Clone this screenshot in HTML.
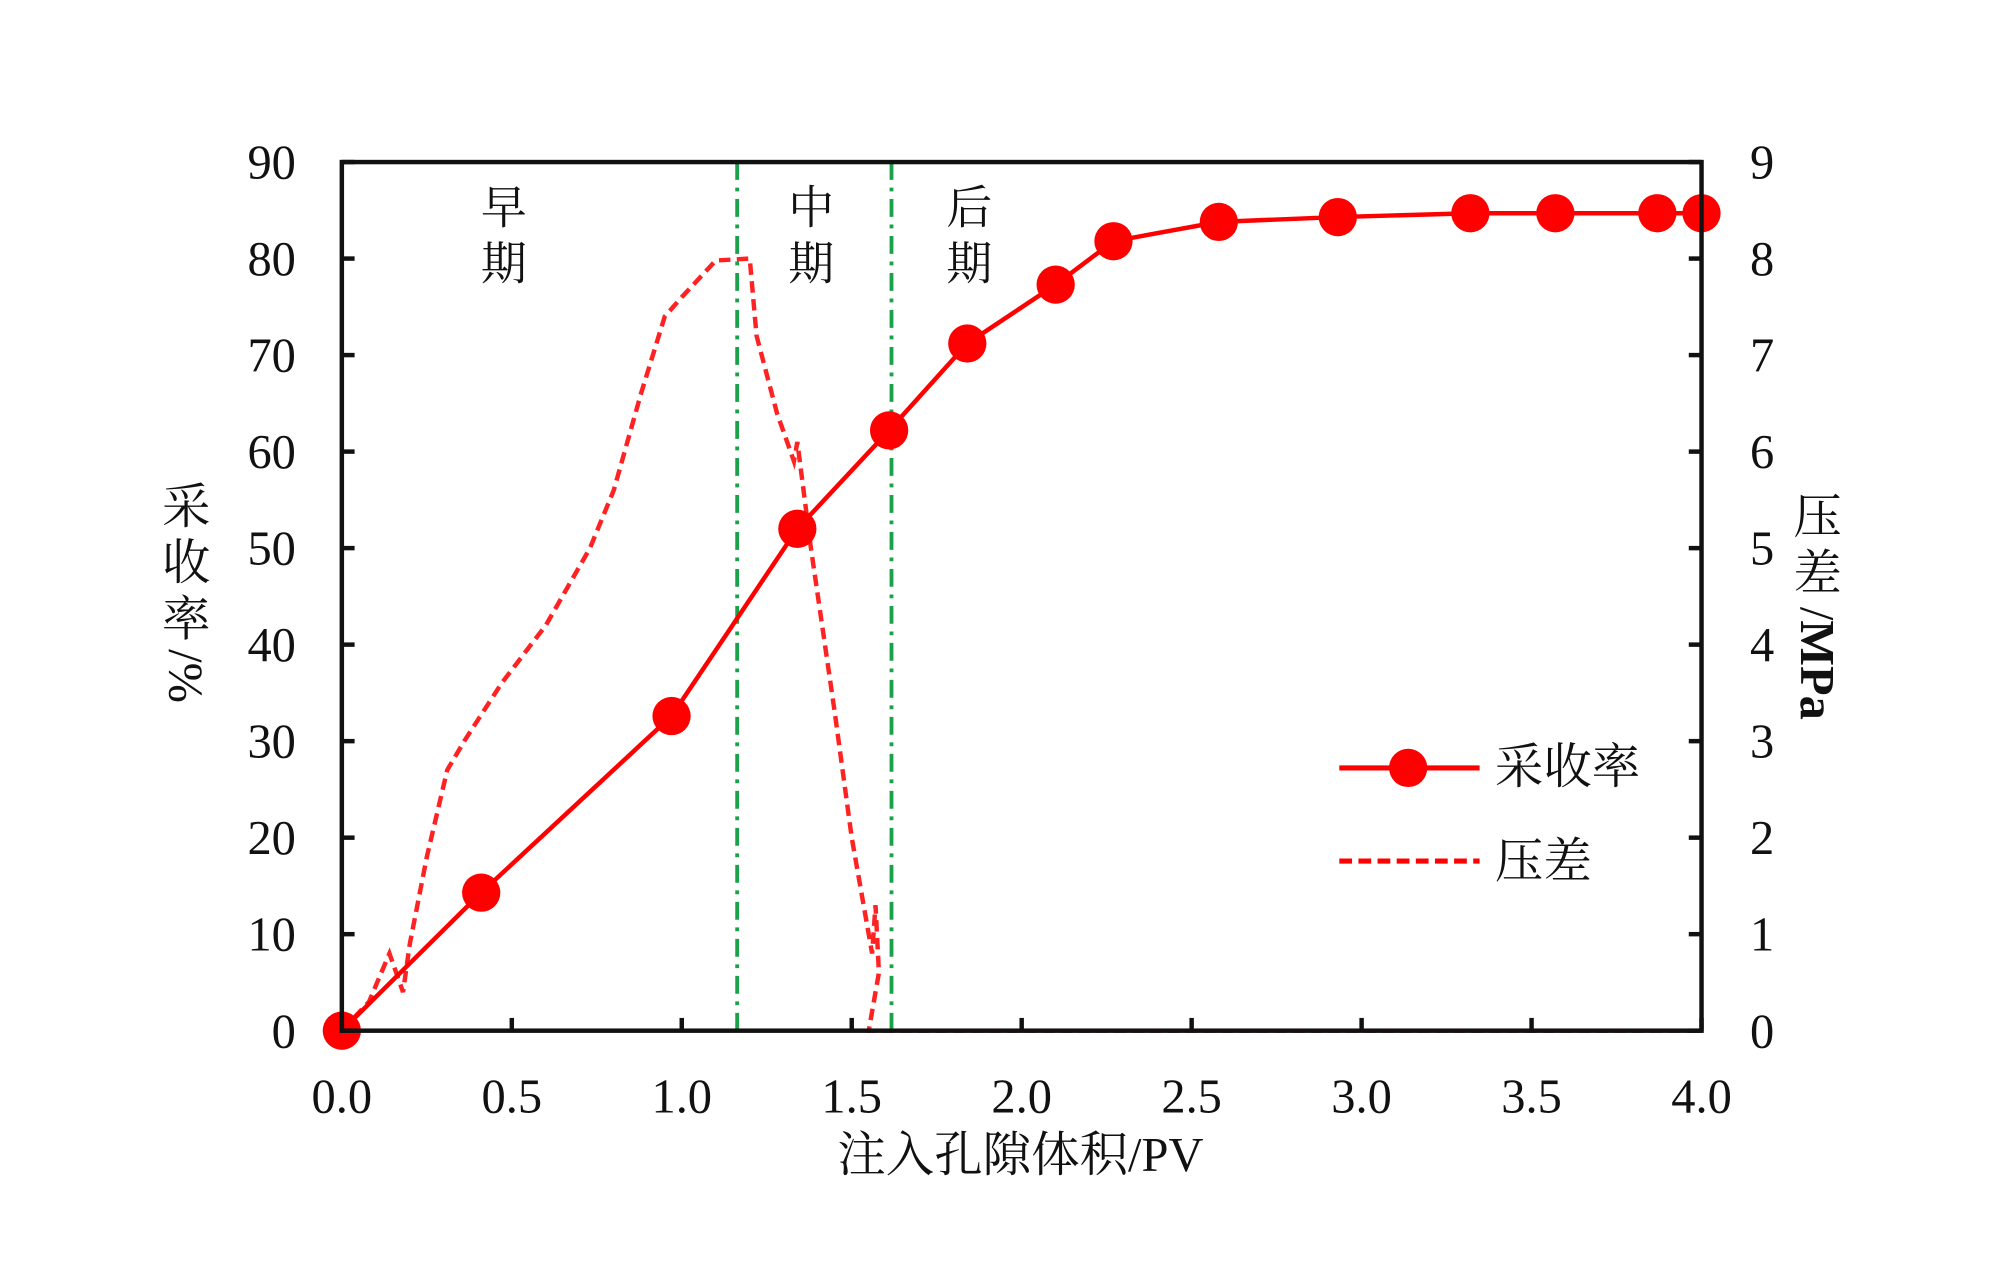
<!DOCTYPE html>
<html><head><meta charset="utf-8"><style>
html,body{margin:0;padding:0;background:#fff;}
svg{display:block;}
text{font-family:"Liberation Serif","Noto Serif CJK SC","Noto Sans CJK SC",serif;fill:#111;}
</style></head><body>
<svg id="chart" width="2000" height="1268" viewBox="0 0 1568 994">
<g id="g-grid"></g>
<g id="g-series"></g>
<g id="g-axes"></g>
<text x="395" y="175" font-size="36" text-anchor="middle"><tspan x="395">早</tspan><tspan x="395" dy="44">期</tspan></text>
<text x="636" y="175" font-size="36" text-anchor="middle"><tspan x="636">中</tspan><tspan x="636" dy="44">期</tspan></text>
<text x="760" y="175" font-size="36" text-anchor="middle"><tspan x="760">后</tspan><tspan x="760" dy="44">期</tspan></text>
<text x="800" y="918" font-size="38" text-anchor="middle">注入孔隙体积/PV</text>
<g>
<text x="146" y="410" font-size="38" text-anchor="middle"><tspan x="146">采</tspan><tspan x="146" dy="44">收</tspan><tspan x="146" dy="44">率</tspan></text>
<text transform="translate(133,530) rotate(90)" font-size="38" text-anchor="middle">/%</text>
</g>
<g>
<text x="1425" y="418" font-size="38" text-anchor="middle"><tspan x="1425">压</tspan><tspan x="1425" dy="44">差</tspan></text>
<text transform="translate(1412,520) rotate(90)" font-size="38" text-anchor="middle">/<tspan font-weight="bold">MPa</tspan></text>
</g>
<g>
<line x1="1050" y1="602" x2="1160" y2="602" stroke="#f00" stroke-width="4"/>
<circle cx="1104" cy="602" r="15" fill="#f00"/>
<text x="1172" y="614" font-size="38">采收率</text>
<line x1="1050" y1="675" x2="1160" y2="675" stroke="#f00" stroke-width="4" stroke-dasharray="10,5"/>
<text x="1172" y="688" font-size="38">压差</text>
</g>
</svg>
<script>
const recX = [0, 0.41, 0.97, 1.34, 1.61, 1.84, 2.10, 2.27, 2.58, 2.93, 3.32, 3.57, 3.87, 4.0];
const recY = [0, 14.3, 32.6, 52.0, 62.2, 71.2, 77.3, 81.8, 83.8, 84.3, 84.7, 84.7, 84.7, 84.7];
const presX = [0, 0.08, 0.14, 0.18, 0.2, 0.25, 0.31, 0.36, 0.47, 0.6, 0.73, 0.8, 0.88, 0.95, 1.0, 1.1, 1.2, 1.22, 1.28, 1.33, 1.34, 1.38, 1.45, 1.5, 1.54, 1.56, 1.57, 1.58, 1.55, 2.0, 3.0, 4.0];
const presY = [0, 0.3, 0.8, 0.4, 0.9, 1.8, 2.7, 3.0, 3.6, 4.2, 5.0, 5.6, 6.6, 7.4, 7.6, 7.98, 8.0, 7.2, 6.4, 5.9, 6.1, 5.0, 3.3, 2.0, 1.2, 0.8, 1.3, 0.6, 0, 0, 0, 0];
const phaseX = [1.163, 1.617];
const xTicks = ["0.0","0.5","1.0","1.5","2.0","2.5","3.0","3.5","4.0"];
const yTicksLeft = ["0","10","20","30","40","50","60","70","80","90"];
const yTicksRight = ["0","1","2","3","4","5","6","7","8","9"];

const L=268,R=1334,T=127,B=808;
const sx=v=>L+(v/4)*(R-L);
const syL=v=>B-(v/90)*(B-T);
const syR=v=>B-(v/9)*(B-T);
const NS="http://www.w3.org/2000/svg";
function mk(tag,attrs,parent){const e=document.createElementNS(NS,tag);for(const k in attrs)e.setAttribute(k,attrs[k]);parent.appendChild(e);return e;}
const gG=document.getElementById('g-grid'),gS=document.getElementById('g-series'),gA=document.getElementById('g-axes');

phaseX.forEach((p,i)=>{
 const l=mk('line',{x1:sx(p),x2:sx(p),y1:T,y2:B,stroke:'#1aa14a','stroke-width':3,'stroke-dasharray':'14,6,3,6'},gG);
 
 
});

const pp=mk('polyline',{points:presX.map((x,i)=>sx(x)+','+syR(presY[i])).join(' '),fill:'none',stroke:'#f22','stroke-width':3.5,'stroke-dasharray':'9,5'},gS);



const rp=mk('polyline',{points:recX.map((x,i)=>sx(x)+','+syL(recY[i])).join(' '),fill:'none',stroke:'#f00','stroke-width':3.5},gS);


recX.forEach((x,i)=>{
 const c=mk('circle',{cx:sx(x),cy:syL(recY[i]),r:15,fill:'#f00'},gS);
 
 
});

const fr=mk('rect',{x:L,y:T,width:R-L,height:B-T,fill:'none',stroke:'#111','stroke-width':3.5},gA);



xTicks.forEach((t,i)=>{
 const x=sx(i*0.5);
 const tk=mk('line',{x1:x,x2:x,y1:B,y2:B-10,stroke:'#111','stroke-width':3.5},gA);
 
 
 const tx=mk('text',{x:x,y:872,'font-size':38,'text-anchor':'middle'},gA);
 tx.textContent=t;
 
 
});
yTicksLeft.forEach((t,i)=>{
 const y=syL(i*10);
 const tk=mk('line',{x1:L,x2:L+10,y1:y,y2:y,stroke:'#111','stroke-width':3.5},gA);
 
 
 const tx=mk('text',{x:232,y:y+13,'font-size':38,'text-anchor':'end'},gA);
 tx.textContent=t;
 
 
});
yTicksRight.forEach((t,i)=>{
 const y=syR(i);
 const tk=mk('line',{x1:R,x2:R-10,y1:y,y2:y,stroke:'#111','stroke-width':3.5},gA);
 
 
 const tx=mk('text',{x:1372,y:y+13,'font-size':38,'text-anchor':'start'},gA);
 tx.textContent=t;
 
 
});
</script>
</body></html>
